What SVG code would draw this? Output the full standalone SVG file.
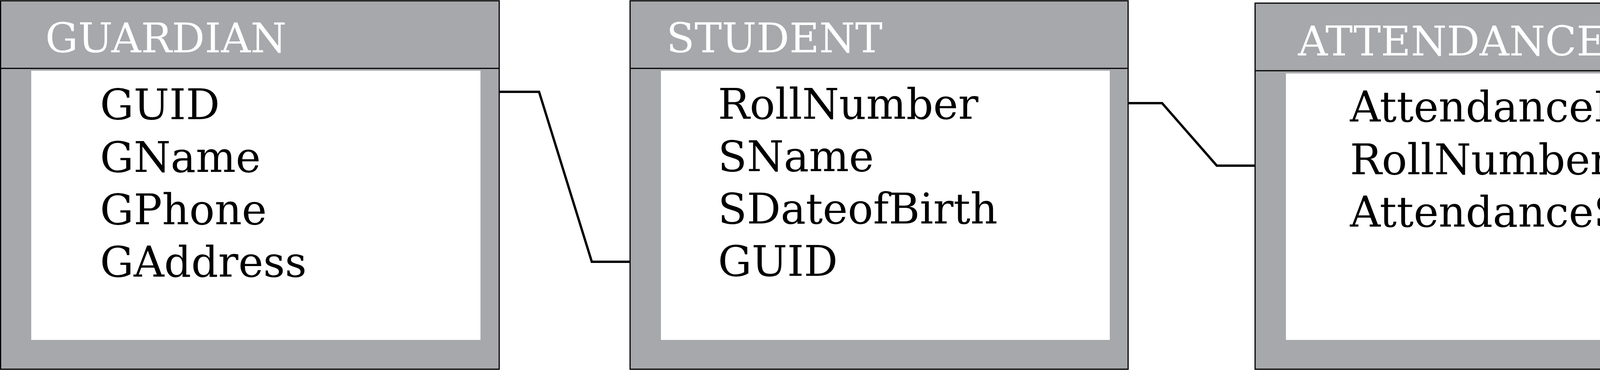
<svg xmlns="http://www.w3.org/2000/svg" width="4491" height="947" viewBox="0 0 4491 947">
<style>
.outer{fill:#a7a8ab;stroke:#000;stroke-width:3}
.div{stroke:#000;stroke-width:3}
.inner{fill:#fff}
.hdr{font-family:"DejaVu Serif",serif;font-size:105px;fill:#fff}
.fld{font-family:"DejaVu Serif",serif;font-size:108px;fill:#000}
.conn{fill:none;stroke:#000;stroke-width:6}
</style>
<rect width="4491" height="947" fill="#fff"/>
<g id="connectors">
<polyline class="conn" points="1278,235 1380,235 1515,670 1613,670"/>
<polyline class="conn" points="2888,264 2975,264 3115,424 3213,424"/>
</g>
<g id="guardian">
<rect class="outer" x="1.5" y="2" width="1276.5" height="943"/>
<line class="div" x1="1.5" y1="175" x2="1278" y2="175"/>
<rect class="inner" x="80" y="181" width="1150" height="689"/>
<text class="hdr" x="116" y="134">GUARDIAN</text>
<text class="fld" x="256" y="305">GUID</text>
<text class="fld" x="256" y="440">GName</text>
<text class="fld" x="256" y="574">GPhone</text>
<text class="fld" x="256" y="708">GAddress</text>
</g>
<g id="student">
<rect class="outer" x="1613" y="2" width="1275" height="943"/>
<line class="div" x1="1613" y1="175" x2="2888" y2="175"/>
<rect class="inner" x="1692" y="181" width="1149" height="689"/>
<text class="hdr" x="1706" y="134">STUDENT</text>
<text class="fld" x="1838" y="304">RollNumber</text>
<text class="fld" x="1838" y="438">SName</text>
<text class="fld" x="1838" y="572">SDateofBirth</text>
<text class="fld" x="1838" y="706">GUID</text>
</g>
<g id="attendance">
<rect class="outer" x="3213" y="8" width="1275" height="937"/>
<line class="div" x1="3213" y1="181" x2="4488" y2="181"/>
<rect class="inner" x="3292" y="188" width="1149" height="682"/>
<text class="hdr" x="3323" y="142">ATTENDANCE</text>
<text class="fld" x="3456" y="311">AttendanceDate</text>
<text class="fld" x="3456" y="446">RollNumber</text>
<text class="fld" x="3456" y="580">AttendanceStatus</text>
</g>
</svg>
